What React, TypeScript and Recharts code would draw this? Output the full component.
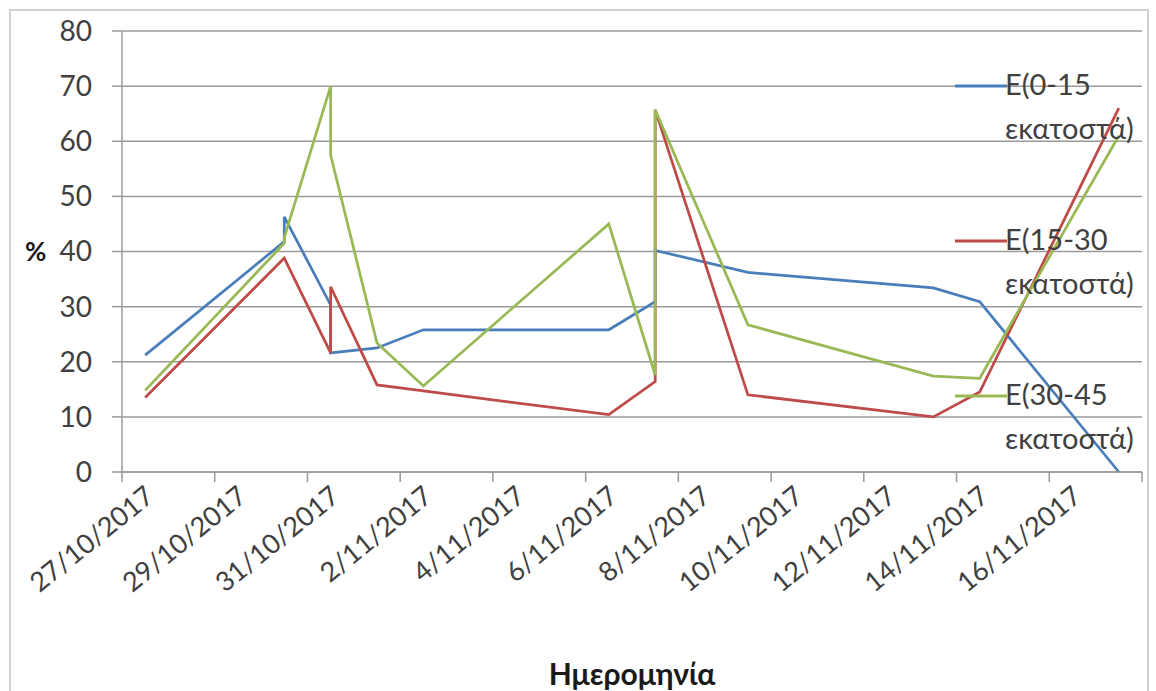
import { CartesianGrid, Line, LineChart, XAxis, YAxis } from 'recharts';

// Sampling dates (some days were sampled twice)
const sampleDates = [
  '27/10/2017', '30/10/2017', '30/10/2017', '31/10/2017', '31/10/2017', '1/11/2017', '2/11/2017',
  '6/11/2017', '7/11/2017', '7/11/2017', '9/11/2017', '13/11/2017', '14/11/2017', '17/11/2017',
];

// Moisture (%) per soil depth layer
const depth0to15 = [21.2, 41.8, 46.3, 30.3, 21.6, 22.5, 25.8, 25.8, 30.9, 40.2, 36.2, 33.4, 30.9, 0];
const depth15to30 = [13.5, 38.8, 38.8, 21.6, 33.6, 15.8, 14.7, 10.4, 16.4, 65.7, 14.0, 10.0, 14.5, 66];
const depth30to45 = [14.8, 41.5, 42.5, 70, 57.5, 23.4, 15.6, 45, 17.6, 65.7, 26.7, 17.4, 17.0, 61];

const seriesNames = ['E(0-15 εκατοστά)', 'E(15-30 εκατοστά)', 'E(30-45 εκατοστά)'];
const seriesColors = ['#4a7ebb', '#be4b48', '#98b954'];

const dateTickLabels = [
  '27/10/2017', '29/10/2017', '31/10/2017', '2/11/2017', '4/11/2017', '6/11/2017',
  '8/11/2017', '10/11/2017', '12/11/2017', '14/11/2017', '16/11/2017',
];
const axisEndDate = '18/11/2017';
const yTicks = [0, 10, 20, 30, 40, 50, 60, 70, 80];

const DAY = 86400000;
const toTime = (s: string) => {
  const [d, m, y] = s.split('/').map(Number);
  return Date.UTC(y, m - 1, d);
};

// each sample is placed in the middle of its day, tick marks sit on day boundaries
const data = sampleDates.map((d, i) => ({
  t: toTime(d) + DAY / 2,
  a: depth0to15[i],
  b: depth15to30[i],
  c: depth30to45[i],
}));

const xTicks = [...dateTickLabels.map(toTime), toTime(axisEndDate)];
const labelByTime = new Map(dateTickLabels.map((l) => [toTime(l), l]));
const xDomain = [toTime(dateTickLabels[0]), toTime(axisEndDate)];

const W = 1156;
const H = 691;
const MARGIN = { top: 31, right: 14, bottom: 0, left: 0 };
const Y_AXIS_W = 122;
const X_AXIS_H = 219;
const PLOT_W = W - MARGIN.left - MARGIN.right - Y_AXIS_W;
const HALF_DAY_PX = PLOT_W / ((xDomain[1] - xDomain[0]) / DAY) / 2;

const FONT = 'Lato, "Noto Sans", sans-serif';
const TEXT = '#404040';
const GRID = '#9a9a9a';

function DateTick(props: any) {
  const { x, y, payload } = props;
  const label = labelByTime.get(payload.value) ?? '';
  return (
    <g transform={`translate(${x + HALF_DAY_PX + 4},${y + 9}) rotate(-39)`}>
      <text textAnchor="end" dominantBaseline="central" fill={TEXT} fontSize={27} fontFamily={FONT}>
        {label}
      </text>
    </g>
  );
}

// legend drawn over the right part of the plot, one two-line entry per series
function SeriesLegend() {
  return (
    <div style={{ position: 'absolute', left: 955, top: 62, width: 200, fontFamily: FONT }}>
      {seriesNames.map((name, i) => {
        const [first, second] = name.split(' ');
        return (
          <div key={name} style={{ position: 'absolute', left: 0, top: i * 155 }}>
            <svg width={52} height={4} style={{ position: 'absolute', left: 0, top: 22 }}>
              <line x1={0} y1={2} x2={52} y2={2} stroke={seriesColors[i]} strokeWidth={3} />
            </svg>
            <div style={{ position: 'absolute', left: 50, top: 0, color: TEXT, fontSize: 29, lineHeight: '44px', whiteSpace: 'nowrap' }}>
              {first}
              <br />
              {second}
            </div>
          </div>
        );
      })}
    </div>
  );
}

export default function App() {
  return (
    <div style={{ position: 'absolute', left: 0, top: 0, width: W, height: H, background: '#fff', overflow: 'hidden' }}>
      <div
        style={{
          position: 'absolute', left: 9, top: 9, width: 1140, height: 700,
          border: '2px solid #d2d2d2', boxSizing: 'border-box',
        }}
      />
      <LineChart width={W} height={H} data={data} margin={MARGIN} style={{ position: 'absolute', left: 0, top: 0 }}>
        <CartesianGrid horizontal vertical={false} stroke={GRID} strokeWidth={1.5} />
        <XAxis
          dataKey="t"
          type="number"
          scale="time"
          domain={xDomain}
          ticks={xTicks}
          height={X_AXIS_H}
          interval={0}
          tickSize={10}
          tickMargin={0}
          stroke={GRID}
          strokeWidth={1.5}
          tick={<DateTick />}
          label={{
            value: 'Ημερομηνία', position: 'insideBottom', offset: 6,
            fill: '#1a1a1a', fontSize: 30, fontWeight: 700, fontFamily: FONT,
          }}
        />
        <YAxis
          type="number"
          domain={[0, 80]}
          ticks={yTicks}
          width={Y_AXIS_W}
          tickSize={10}
          tickMargin={20}
          stroke={GRID}
          strokeWidth={1.5}
          tick={{ fill: TEXT, fontSize: 28, fontFamily: FONT }}
          label={{
            value: '%', position: 'insideLeft', offset: 25,
            fill: '#1a1a1a', fontSize: 26, fontWeight: 700, fontFamily: FONT,
          }}
        />
        <Line type="linear" dataKey="a" name={seriesNames[0]} stroke={seriesColors[0]} strokeWidth={2.75} dot={false} isAnimationActive={false} />
        <Line type="linear" dataKey="b" name={seriesNames[1]} stroke={seriesColors[1]} strokeWidth={2.75} dot={false} isAnimationActive={false} />
        <Line type="linear" dataKey="c" name={seriesNames[2]} stroke={seriesColors[2]} strokeWidth={2.75} dot={false} isAnimationActive={false} />
      </LineChart>
      <SeriesLegend />
    </div>
  );
}
